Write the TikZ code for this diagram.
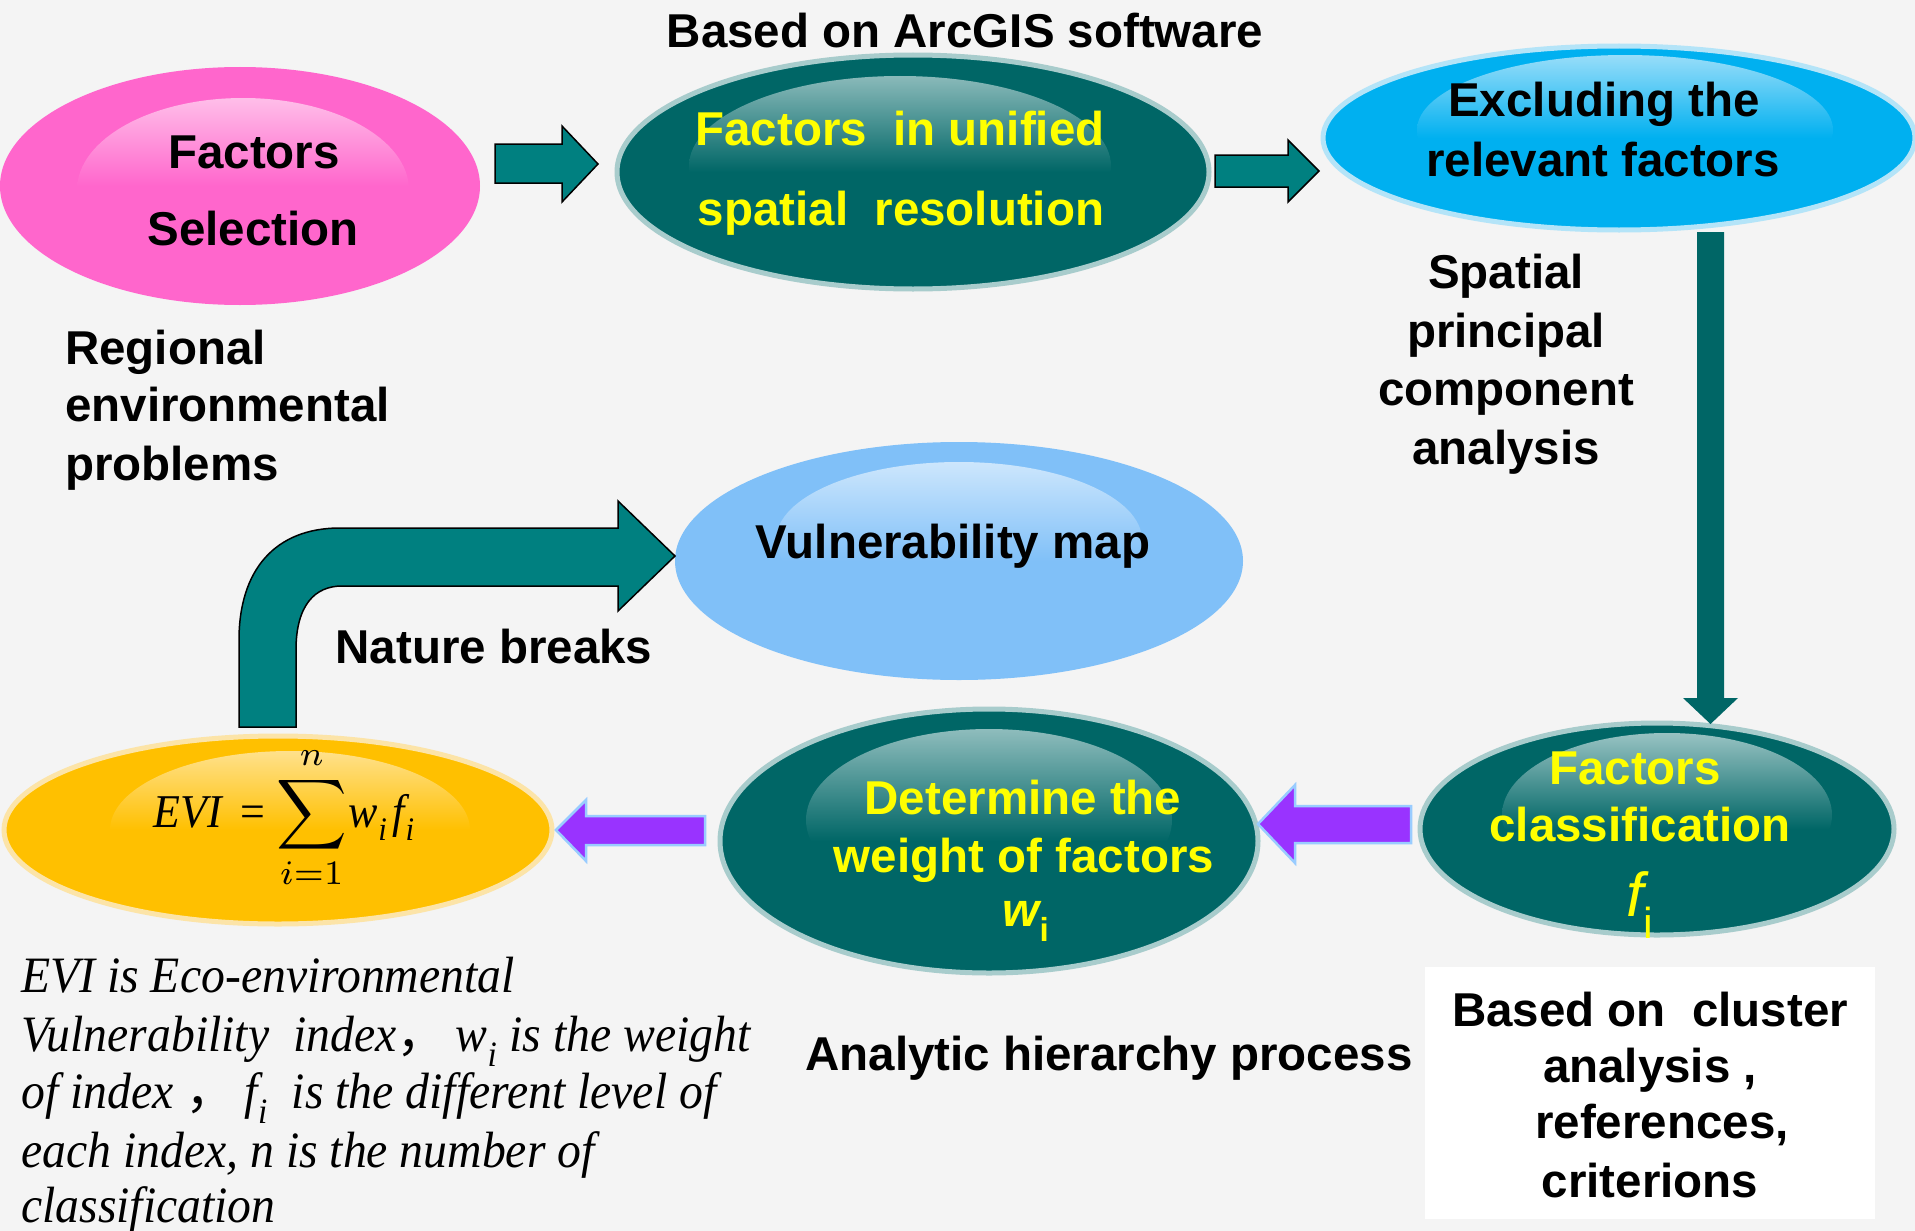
\documentclass[tikz,border=0pt]{standalone}
\usepackage{fontspec}
\setmainfont{Liberation Sans}
\newfontfamily\tms{Liberation Serif}
\newfontfamily\tmsn[FakeStretch=0.935]{Liberation Serif}
\newfontfamily\cjk{Noto Sans CJK SC}
\usetikzlibrary{shapes.geometric,calc}
\definecolor{bgc}{HTML}{F4F4F4}
\definecolor{pinkE}{HTML}{FF66CC}
\definecolor{pinkL}{HTML}{FFDDF3}
\definecolor{tealD}{HTML}{006666}
\definecolor{tealL}{HTML}{A8CCCC}
\definecolor{tealA}{HTML}{008080}
\definecolor{blueE}{HTML}{00B0F0}
\definecolor{blueB}{HTML}{B4E4F8}
\definecolor{blueL}{HTML}{A8E2FA}
\definecolor{skyE}{HTML}{80C0F8}
\definecolor{skyL}{HTML}{DCEEFD}
\definecolor{goldE}{HTML}{FFC000}
\definecolor{goldB}{HTML}{FCE4A8}
\definecolor{goldL}{HTML}{FFE7A6}
\definecolor{purpA}{HTML}{9933FF}
\definecolor{purpB}{HTML}{99CCFF}
\definecolor{yel}{HTML}{FFFF00}
\tikzset{
  ell/.style={ellipse, inner sep=0pt, outer sep=0pt},
  hl/.style n args={6}{path picture={\shade[top color=#5, bottom color=#6, middle color=#6]
     ($(path picture bounding box.center)+(#1,#2)$) ellipse [x radius=#3, y radius=#4];}},
  lbl/.style={anchor=base, inner sep=0pt, font=\fontsize{47.5}{58}\selectfont\bfseries},
  desc/.style={anchor=base west, inner sep=0pt, font=\tmsn\itshape\fontsize{51}{58}\selectfont},
  tealarrow/.style={fill=tealA, draw=black, line width=1.5pt, line join=miter},
  purparrow/.style={fill=purpA, draw=purpB, line width=2.5pt, line join=miter}
}
\begin{document}
\begin{tikzpicture}[x=1pt,y=-1pt]
\useasboundingbox (0,0) rectangle (1915,1231);
\fill[bgc] (0,0) rectangle (1915,1231);

% ellipses
\node[ell, fill=pinkE, minimum width=480pt, minimum height=238pt,
      hl={3}{4}{166}{92}{pinkL}{pinkE}] (sel) at (240,186) {};
\node[ell, fill=tealD, draw=tealL, line width=5pt, minimum width=592pt, minimum height=234pt,
      hl={-13}{-6}{211}{90}{tealL}{tealD}] (unif) at (913,172) {};
\node[ell, fill=blueE, draw=blueB, line width=5pt, minimum width=592pt, minimum height=184pt,
      hl={6}{-8}{208}{75}{blueL}{blueE}] (excl) at (1619,138) {};
\node[ell, fill=skyE, minimum width=568pt, minimum height=238pt,
      hl={0}{-21}{183}{78}{skyL}{skyE}] (vuln) at (959,561) {};
\node[ell, fill=goldE, draw=goldB, line width=5pt, minimum width=548pt, minimum height=188pt,
      hl={12}{0}{180}{79}{goldL}{goldE}] (evi) at (278,830) {};
\node[ell, fill=tealD, draw=tealL, line width=5pt, minimum width=538pt, minimum height=264pt,
      hl={0}{-21}{183}{91}{tealL}{tealD}] (det) at (989,841) {};
\node[ell, fill=tealD, draw=tealL, line width=5pt, minimum width=474pt, minimum height=212pt,
      hl={10}{-14}{165}{82}{tealL}{tealD}] (cls) at (1657,829) {};

% white box
\node[fill=white, inner sep=0pt, minimum width=450pt, minimum height=252pt] (box) at (1650,1093) {};

% block arrows
\draw[tealarrow] (495,144) -- (562,144) -- (562,126) -- (598,164) -- (562,202) -- (562,183) -- (495,183) -- cycle;
\draw[tealarrow] (1215,155) -- (1288,155) -- (1288,140) -- (1319,171) -- (1288,202) -- (1288,187) -- (1215,187) -- cycle;
\fill[tealD] (1697,232) -- (1724,232) -- (1724,698) -- (1738,698) -- (1710.5,724) -- (1683,698) -- (1697,698) -- cycle;
\draw[tealarrow] (239,727) -- (239,640) .. controls (239,570) and (275,528) .. (340,528)
   -- (618,528) -- (618,501) -- (675,556) -- (618,611) -- (618,586) -- (342,586)
   .. controls (315,586) and (296,605) .. (296,650) -- (296,727) -- cycle;
\draw[purparrow] (705,816) -- (586,816) -- (586,800) -- (556,830) -- (586,861) -- (586,845) -- (705,845) -- cycle;
\draw[purparrow] (1411,806) -- (1295,806) -- (1295,785) -- (1258,824) -- (1295,863) -- (1295,843) -- (1411,843) -- cycle;

% texts
\node[lbl] (t0) at (965,48) {Based on ArcGIS software};
\node[lbl] (sel1) at (254,168) {Factors};
\node[lbl] (sel2) at (253,245) {Selection};
\node[lbl, text=yel] (un1) at (900,145) {Factors\ \ in unified};
\node[lbl, text=yel] (un2) at (901,225) {spatial\ \ resolution};
\node[lbl] (ex1) at (1604,117) {Excluding the};
\node[lbl] (ex2) at (1603,176) {relevant factors};
\node[lbl] (sp1) at (1506,288) {Spatial};
\node[lbl] (sp2) at (1506,347) {principal};
\node[lbl] (sp3) at (1506,405) {component};
\node[lbl] (sp4) at (1506,464) {analysis};
\node[lbl, anchor=base west] (rg1) at (65,364) {Regional};
\node[lbl, anchor=base west] (rg2) at (65,421) {environmental};
\node[lbl, anchor=base west] (rg3) at (65,480) {problems};
\node[lbl] (vm) at (953,558) {Vulnerability map};
\node[lbl] (nb) at (494,663) {Nature breaks};
\node[lbl, text=yel] (de1) at (1023,814) {Determine the};
\node[lbl, text=yel] (de2) at (1024,872) {weight of factors};
\node[lbl, text=yel] (de3) at (1026,926) {\itshape w\textsubscript{\upshape i}};
\node[lbl, text=yel] (cl1) at (1635,784) {Factors};
\node[lbl, text=yel] (cl2) at (1640,841) {classification};
\node[lbl, text=yel, font=\fontsize{62}{62}\selectfont] (cl3) at (1640,916) {\itshape f\textsubscript{\upshape i}};
\node[lbl] (ahp) at (1109,1070) {Analytic hierarchy process};
\node[lbl] (bx1) at (1650,1026) {Based on\ \ cluster};
\node[lbl] (bx2) at (1650,1082) {analysis ,};
\node[lbl] (bx3) at (1662,1138) {references,};
\node[lbl] (bx4) at (1650,1197) {criterions};

% formula
\node[anchor=base, inner sep=0pt, font=\tmsn\fontsize{47}{50}\selectfont] (form) at (284,827)
  {\itshape EVI\upshape\ \,=\ \scalebox{4.9}{\fontsize{10}{12}\selectfont$\displaystyle\sum_{i=1}^{n}$}\kern1pt\itshape w\kern1pt\textsubscript{i}\kern5pt f\kern1pt\textsubscript{i}};

% description
\node[desc] (d1) at (21,992) {EVI is Eco-environmental};
\node[desc] (d2) at (21,1051) {Vulnerability\ \ index{\cjk\upshape ，}\,w\textsubscript{i} is the weight};
\node[desc] (d3) at (21,1108) {of index {\cjk\upshape ，}\,f\textsubscript{i}\ \ is the different level of};
\node[desc] (d4) at (21,1167) {each index, n is the number of};
\node[desc] (d5) at (21,1222) {classification};
\end{tikzpicture}
\end{document}
